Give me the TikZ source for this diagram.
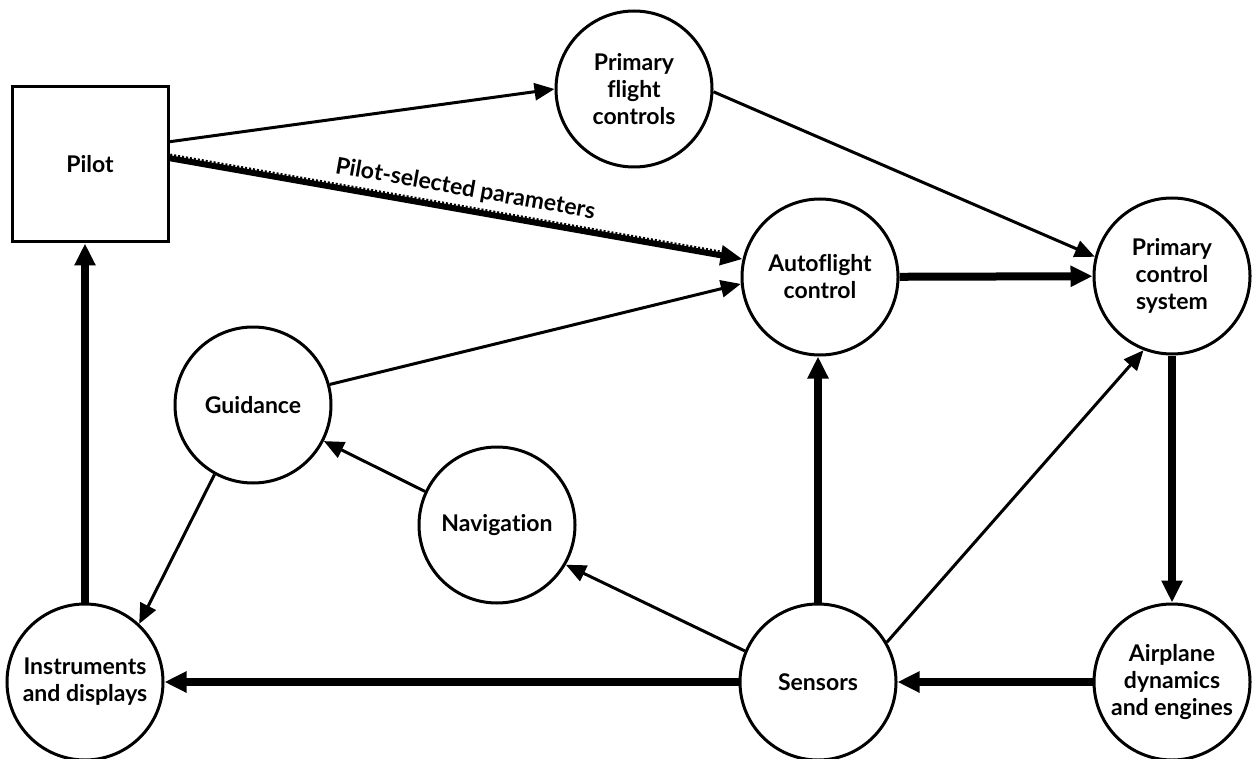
\documentclass[tikz,border=0pt]{standalone}
\usepackage{fontspec}
\setmainfont{Lato}[Ligatures=NoCommon]
\usetikzlibrary{arrows.meta,calc}

\begin{document}
\begin{tikzpicture}[x=1pt,y=-1pt,
  txt/.style={font=\bfseries\fontsize{23}{27}\selectfont, align=center},
  blob/.style={txt, draw, line width=3pt, circle, minimum size=156pt, inner sep=0pt},
  boxnode/.style={txt, draw, line width=3pt, rectangle, minimum width=156pt, minimum height=155pt, inner sep=0pt},
  thinflow/.style={line width=3pt, -{Triangle[length=20pt,width=17pt]}},
  heavyflow/.style={line width=8pt, -{Triangle[length=22pt,width=20pt]}}]

\useasboundingbox (0,0) rectangle (1252,759);

% blocks
\node[boxnode] (pilot) at (90,164.5) {Pilot};
\node[blob] (pfc)   at (634,89)  {Primary\\flight\\controls};
\node[blob] (af)    at (820,277) {Autoflight\\control};
\node[blob] (pcs)   at (1172,276) {Primary\\control\\system};
\node[blob] (guid)  at (253,405) {Guidance};
\node[blob] (nav)   at (497,525) {Navigation};
\node[blob] (sens)  at (818,682) {Sensors};
\node[blob] (air)   at (1172,682) {Airplane\\dynamics\\and engines};
\node[blob] (instr) at (85,682)  {Instruments\\and displays};

% pilot outputs
\coordinate (p1) at ($(pilot.north east)!0.356!(pilot.south east)$);
\coordinate (p2) at ($(pilot.north east)!0.46!(pilot.south east)$);
\draw[thinflow] (p1) -- (pfc.west);
\draw[line width=6pt, -{Triangle[length=22pt,width=19pt]}] (p2) -- (af.167)
  node[pos=0.51, sloped, above=7pt, txt, inner sep=0pt]
  {\addfontfeatures{Kerning=Off}Pilot-selected parameters};
\draw[line width=2.5pt, dash pattern=on 2pt off 2pt, shorten >=24pt,
  transform canvas={shift={(0.7pt,3.4pt)}}] (p2) -- (af.167);

% signal flow
\draw[thinflow] (guid.15) -- (af.185);
\draw[thinflow] (pfc.-2) -- (pcs.166);
\draw[heavyflow] (af) -- (pcs);
\draw[heavyflow] (pcs) -- (air);
\draw[heavyflow] (air) -- (sens);
\draw[heavyflow] (sens) -- (instr);
\draw[heavyflow] (sens.north) -- (sens.north |- af.south);
\draw[thinflow] (sens.30) -- (pcs.249);
\draw[thinflow] (sens.157) -- (nav.-30);
\draw[thinflow] (nav.155) -- (guid.-27);
\draw[thinflow] (guid.241) -- (instr.47);
\draw[heavyflow] (instr.north) -- (instr.north |- pilot.south);

\end{tikzpicture}
\end{document}
